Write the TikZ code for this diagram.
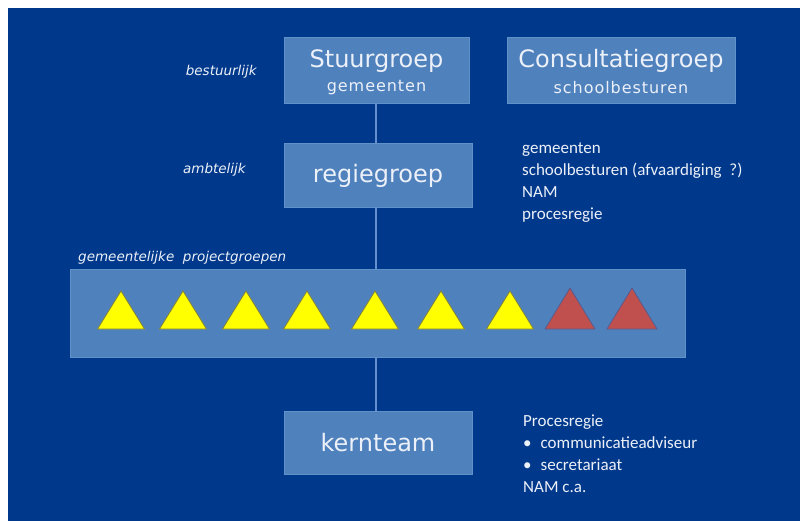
\documentclass[tikz,border=0pt]{standalone}
\usepackage{fontspec}
\setmainfont{DejaVu Sans}
\newfontfamily\calib{Carlito}
\definecolor{bgblue}{RGB}{0,57,140}
\definecolor{boxblue}{RGB}{79,129,189}
\definecolor{boxedge}{RGB}{96,145,200}
\definecolor{linecol}{RGB}{100,145,205}
\definecolor{txt}{RGB}{236,240,248}
\definecolor{yel}{RGB}{255,255,0}
\definecolor{yeledge}{RGB}{130,130,60}
\definecolor{redtri}{RGB}{192,80,77}
\definecolor{rededge}{RGB}{90,90,140}
\tikzset{
  orgbox/.style={draw=boxedge, fill=boxblue, line width=0.8pt},
  title/.style={text=txt, font=\fontsize{24}{26}\selectfont, inner sep=0pt},
  subtitle/.style={text=txt, font=\fontsize{16}{18}\selectfont\addfontfeatures{LetterSpace=6}, inner sep=0pt},
  lvl/.style={text=txt, font=\fontsize{13.5}{15}\selectfont\itshape, inner sep=0pt},
  listtxt/.style={text=txt, font=\calib\fontsize{17}{21.7}\selectfont, inner sep=0pt, align=left},
  conn/.style={draw=linecol, line width=1.6pt},
  ytri/.style={fill=yel, draw=yeledge, line width=0.8pt, line join=round},
  rtri/.style={fill=redtri, draw=rededge, line width=0.8pt, line join=round}
}
\begin{document}
\begin{tikzpicture}[x=1pt,y=-1pt]
\useasboundingbox (0,0) rectangle (800,520);
\fill[white] (-5,-5) rectangle (805,525);
\fill[bgblue] (8,8) rectangle (805,525);
% boxes
\path[orgbox] (284,37) rectangle (469,103);
\coordinate (stuurB) at (376,103);
\path[orgbox] (507,37) rectangle (735,103);
\path[orgbox] (284,143) rectangle (472,207);
\coordinate (regieT) at (376,143);
\coordinate (regieB) at (376,207);
\path[orgbox] (70,269) rectangle (685,357);
\coordinate (barT) at (376,269);
\coordinate (barB) at (376,357);
\path[orgbox] (284,411) rectangle (472,474);
\coordinate (kernT) at (376,411);
% connectors
\draw[conn] (stuurB) -- (regieT);
\draw[conn] (regieB) -- (barT);
\draw[conn] (barB) -- (kernT);
% titles
\node[title] (stuur) at (376.5,61) {Stuurgroep};
\node[subtitle] (stuursub) at (376.5,88) {gemeenten};
\node[title] (cons) at (621,61) {Consultatiegroep};
\node[subtitle] (conssub) at (621,88) {schoolbesturen};
\node[title] (regie) at (378,176) {regiegroep};
\node[title] (kern) at (378,443) {kernteam};
% level labels
\node[lvl, anchor=east] (best) at (257,72) {bestuurlijk};
\node[lvl, anchor=east] (ambt) at (246,170) {ambtelijk};
\node[lvl, anchor=west] (gpg) at (78,258) {gemeentelijke\ \ projectgroepen};
% lists
\node[listtxt, anchor=north west] (regielist) at (522,143) {gemeenten\\schoolbesturen (afvaardiging\ \ ?)\\NAM\\procesregie};
\node[listtxt, anchor=north west] (kernlist) at (523,415) {Procesregie\\\textbullet\hspace{9pt}communicatieadviseur\\\textbullet\hspace{9pt}secretariaat\\NAM c.a.};
% triangles
\foreach \c/\n in {121/t1,183/t2,246/t3,307/t4,375/t5,441/t6,510/t7}{
  \path[ytri] (\c-23.5,329) -- (\c,291) -- (\c+23.5,329) -- cycle;
}
\foreach \c/\n in {570/t8,632/t9}{
  \path[rtri] (\c-25,329) -- (\c,288) -- (\c+25,329) -- cycle;
}
\end{tikzpicture}
\end{document}
